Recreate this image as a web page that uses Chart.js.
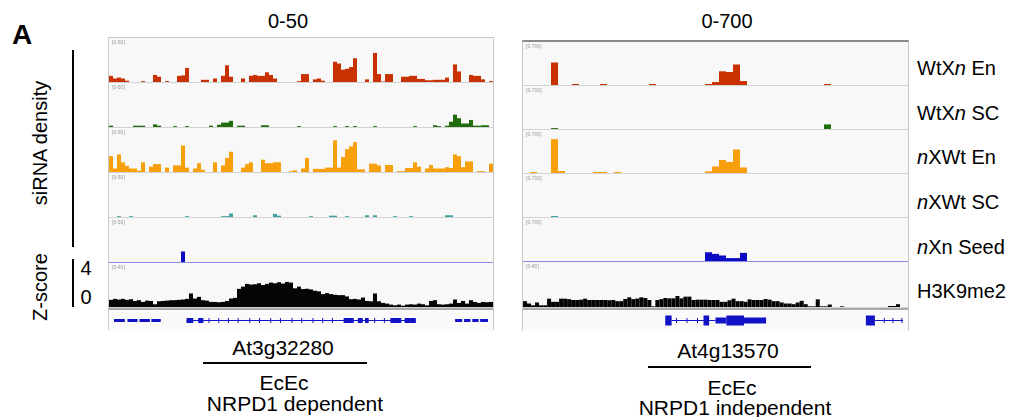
<!DOCTYPE html>
<html>
<head>
<meta charset="utf-8">
<script src="https://cdn.jsdelivr.net/npm/chart.js@4.4.1/dist/chart.umd.min.js"></script>
<style>
body { margin: 0; background: #fff; font-family: "Liberation Sans", Arial, sans-serif; }
#fig { position: relative; width: 1011px; height: 417px; overflow: hidden; background: #fff; }
.txt { position: absolute; white-space: nowrap; transform: translate(-50%, -50%); line-height: 1; color: #000; }
.rot { transform: translate(-50%, -50%) rotate(-90deg); }
.lab { position: absolute; left: 917px; white-space: nowrap; transform: translateY(-50%); font-size: 20px; line-height: 1; }
.bar { position: absolute; background: #000; }
.frame { position: absolute; background: #f8f8f8; }
.track { position: absolute; background: #f8f8f8; border-bottom: 1px solid #d2d2d2; }
.track canvas, .gene canvas { display: block; }
.tag { position: absolute; left: 3px; top: 2px; font-size: 5px; color: #999; line-height: 1; }
.gene { position: absolute; background: #fafafa; border-top: 2px solid #a9a9a9; }
</style>
</head>
<body>
<div id="fig">
  <div class="txt" style="left:22px;top:35px;font-size:28px;font-weight:bold">A</div>
  <div class="txt" style="left:288px;top:21px;font-size:20px">0-50</div>
  <div class="txt" style="left:727px;top:21px;font-size:20px">0-700</div>

  <div class="txt rot" style="left:40px;top:143px;font-size:20px">siRNA density</div>
  <div class="bar" style="left:72px;top:50px;width:2px;height:197px"></div>
  <div class="txt rot" style="left:40px;top:287px;font-size:20px">Z-score</div>
  <div class="bar" style="left:72px;top:259px;width:2px;height:48px"></div>
  <div class="txt" style="left:86px;top:268px;font-size:20px">4</div>
  <div class="txt" style="left:86px;top:297px;font-size:20px">0</div>

  <div class="lab" style="top:68px">WtX<i>n</i> En</div>
  <div class="lab" style="top:113px">WtX<i>n</i> SC</div>
  <div class="lab" style="top:157px"><i>n</i>XWt En</div>
  <div class="lab" style="top:202px"><i>n</i>XWt SC</div>
  <div class="lab" style="top:247px"><i>n</i>Xn Seed</div>
  <div class="lab" style="top:291px">H3K9me2</div>

  <div class="txt" style="left:283px;top:347px;font-size:21px">At3g32280</div>
  <div class="bar" style="left:203px;top:362px;width:164px;height:2px"></div>
  <div class="txt" style="left:284px;top:382px;font-size:21px">EcEc</div>
  <div class="txt" style="left:295px;top:403px;font-size:21px">NRPD1 dependent</div>

  <div class="txt" style="left:728px;top:350px;font-size:21px">At4g13570</div>
  <div class="bar" style="left:648px;top:366px;width:163px;height:2px"></div>
  <div class="txt" style="left:732px;top:387px;font-size:21px">EcEc</div>
  <div class="txt" style="left:735px;top:407px;font-size:21px">NRPD1 independent</div>
</div>

<script>
// ---- left window (At3g32280), 96 bins, siRNA scale 0-50, H3K9me2 scale 0-40
const leftRed = [7,4,5,4,1.5,0,0,0,1,0, 0,8,6,0,1,0,0,7,7.5,16, 0,0,0,2.5,2.5,0,4,0,7,19,
  6,0,0,4,0,7,8,7,7,11, 8,4,0,0,0,0,0,1,9,9, 0,3,4,1.5,0,0,23,21,14,15,
  17,27,0,0,3,0,33,9,0.5,9, 9,0,0,6,6,7,7,3.5,3.5,2, 2,2.5,2.5,2.5,5,0,20,12,0,0, 8,7,7,3,0,1];
const leftGreen = [1.5,0,0,0,0,0,1.5,1.5,1.5,0, 0,3,1.5,0,0,0,1,0,0,1, 0,0,0,0,0,1.5,0,2.5,5,5,
  7,0,1.5,1.5,0,0,0,0,2,2, 0,0,0,0,0,0,0,1,0,0, 0,0,0,0,0,0,1,0,0,1,
  0,1,0,0,0,0,1,0,0,0, 0,0,0,0,0,0,1,0,0,0, 0,2,1,0,1.5,6,14,10,4,4, 8,1.5,1.5,2,2,0];
const leftOrange = [18,4,20,11,7,4,4,1.5,11,0, 6,9,9,0,5,0,7.5,7.5,30,5, 0,4,10,2.5,0,0,11,0,7.5,16,
  23,0,0,5,9,11,0,0,14,10, 10,11,11,0,0,1,2,0,4,16, 0,3.5,3.5,3.5,5,5,36,5,17,26,
  29,34,3,3,0,9.5,9.5,7.5,0,8, 8,0,1,1,4.5,4.5,11,6,0,4, 8,4,4,4,5.5,4.5,20,18,5.5,12, 12,0,1,1,0,9.5];
const leftTeal = [0,0,1,0,0,1,0,0,0,0, 0,0,0,0,0,0,0,0,0,1, 0,0,0,0,0,0,0,0,1,1,
  4,0,0,0,0,0,2,0,0,0, 0,3.5,1.5,0,0,0,0,0,0,0, 1,0,0,0,0,1.5,1.5,0,0,1,
  0,0,0,0,2,0,2,0,0,0, 0,1,0,0,0,1,0,0,0,0, 0,0,0,0,2,2,0,0,0,0, 0,0,0,0,0,0];
const leftSeed = [0,0,0,0,0,0,0,0,0,0, 0,0,0,0,0,0,0,0,12,0, 0,0,0,0,0,0,0,0,0,0,
  0,0,0,0,0,0,0,0,0,0, 0,0,0,0,0,0,0,0,0,0, 0,0,0,0,0,0,0,0,0,0,
  0,0,0,0,0,0,0,0,0,0, 0,0,0,0,0,0,0,0,0,0, 0,0,0,0,0,0,0,0,0,0, 0,0,0,0,0,0];
const leftH3 = [6.5,7.4,6.8,7.4,6.5,7.1,5.5,6.2,4.6,5.8, 5.5,2.5,5.2,5.5,5.8,6.2,6.2,6.5,6.8,7.4,
  12.3,7.7,9.2,6.2,5.8,4.6,4.6,4.3,4.6,5.5, 7.7,8.3,16.5,18.5,21,20.4,20.7,21.6,20,21,
  22.2,21.6,22.5,21.3,22.8,22.2,17,18.5,16.3,16.6, 16,14.8,14.2,11.7,12.6,11.7,11.1,10.8,10.8,9.6,
  7.1,7.4,6.8,8.6,5.5,5.2,12.3,5.2,3.7,3.1, 2.2,1.5,2.2,1.2,2.2,2.5,2.2,3.1,2.5,1.5,
  5.5,6.2,2.5,2.2,2.5,3.1,6.8,3.7,5.5,3.1, 6.2,4.6,3.7,4.6,4.3,4.6];

// ---- right window (At4g13570), siRNA 55 bins scale 0-700, H3K9me2 96 bins scale 0-40
const rightRed = [0,0,0,0,366,0,0,16,0,0, 0,16,0,0,0,0,0,0,16,0, 0,0,0,0,0,0,16,48,223,212,
  334,64,0,0,0,0,0,0,0,0, 0,0,0,16,0,0,0,0,0,0, 0,0,0,0,0];
const rightGreen = [0,0,0,0,15,0,0,0,0,0, 0,0,0,0,0,0,0,0,0,0, 0,0,0,0,0,0,0,0,0,0,
  0,0,0,0,0,0,0,0,0,0, 0,0,0,75,0,0,0,0,0,0, 0,0,0,0,0];
const rightOrange = [0,16,0,0,551,32,0,0,0,0, 16,16,0,16,0,0,0,0,0,0, 0,0,0,0,0,0,27,106,212,180,
  382,90,0,0,0,0,0,0,0,0, 0,0,0,0,0,0,0,0,0,0, 0,0,0,0,0];
const rightTeal = [0,0,0,0,16,0,0,0,0,0, 0,0,0,0,0,0,0,0,0,0, 0,0,0,0,0,0,0,0,0,0,
  0,0,0,0,0,0,0,0,0,0, 0,0,0,0,0,0,0,0,0,0, 0,0,0,0,0];
const rightSeed = [0,0,0,0,0,0,0,0,0,0, 0,0,0,0,0,0,0,0,0,0, 0,0,0,0,0,0,142,116,90,47,
  47,132,0,0,0,0,0,0,0,0, 0,0,0,0,0,0,0,0,0,0, 0,0,0,0,0];
const rightH3 = [5.2,3.1,1.5,4,1.5,1.5,7.4,4.6,4.6,7.4, 7.4,7,6.2,6.2,6.5,7.4,6.2,6.2,6.2,6.2,
  6.2,6,6.2,5.2,5.2,7.1,8.6,7,7.5,8.6, 8,6.2,0.6,6.2,7,8,7.7,7.7,9.8,7.7,
  9.2,9.2,6.2,6.5,6.5,6.5,6.2,6.2,6.2,4.6, 4.6,6,7.4,5.2,5.2,4.6,6.8,6.2,6.2,6.2,
  7.1,6.5,5.2,5.2,4,3.1,3.1,2.5,4,5.5, 2.5,0.6,0.6,6.8,0.6,0.6,2.2,0,0,0.6,
  0,0,0,0,0,0,0,0,0,0, 0,0.9,0.9,2.5,0,0];

// ---- gene models, position in % of window
const leftNeighbours = [[0,2.9],[3.6,6.3],[6.8,9.6],[10,12.5],[91.2,93.1],[93.6,95.3],[95.8,97.5],[97.9,100]];
const leftExons = [[19.4,21.2],[22.5,23.9],[61.4,64.1],[65.2,66.5],[67.1,68.1],[73.9,76.8],[77.7,80.7]];
const leftIntrons = [[19.4,80.7]];
const leftArrows = [25.4,28,30.6,33.2,36.3,38.9,41.9,44.5,47.6,50.2,53.2,55.8,58.4,69.7,72.3];
const rightCds = [[36.6,38.3],[46.8,48.3],[52.9,57.6],[90.1,92.5]];
const rightUtr = [[50,52.9],[57.6,63.5]];
const rightIntrons = [[38.3,50],[92.5,100]];
const rightArrows = [39.6,42.4,45.2,95,97.3,99.7];

const colors = { en: '#c83200', sc: '#1f6d0c', xen: '#f7a00c', xsc: '#3aa3a8', seed: '#0b0bc4', h3: '#050505', gene: '#1212c6' };

const fig = document.getElementById('fig');

function baseOptions(scales) {
  return {
    responsive: false, animation: false, devicePixelRatio: 1, events: [],
    layout: { padding: 0 },
    plugins: { legend: { display: false }, tooltip: { enabled: false } },
    scales
  };
}

function addBox(cls, css) {
  const d = document.createElement('div');
  d.className = cls;
  d.style.cssText = css;
  fig.appendChild(d);
  return d;
}

function addTrack(x, top, w, h, values, color, max, tag, edge) {
  const box = addBox('track', `left:${x}px;top:${top}px;width:${w}px;height:${h}px;` + (edge ? `border-bottom-color:${edge}` : ''));
  const cv = document.createElement('canvas');
  cv.width = w; cv.height = h;
  box.appendChild(cv);
  const t = document.createElement('div');
  t.className = 'tag'; t.textContent = tag;
  box.appendChild(t);
  new Chart(cv, {
    type: 'bar',
    data: {
      labels: values.map((v, i) => i),
      datasets: [{ data: values, backgroundColor: color, borderWidth: 0, inflateAmount: 0, barPercentage: 1, categoryPercentage: 1 }]
    },
    options: baseOptions({
      x: { display: false },
      y: { display: false, min: 0, max: max }
    })
  });
}

function segments(pairs) {
  const pts = [];
  pairs.forEach(p => pts.push({ x: p[0], y: 0 }, { x: p[1], y: 0 }, { x: p[1], y: null }));
  return pts;
}

function addGene(x, top, w, h, parts, arrows) {
  const box = addBox('gene', `left:${x}px;top:${top}px;width:${w}px;height:${h}px`);
  const cv = document.createElement('canvas');
  cv.width = w; cv.height = h;
  box.appendChild(cv);
  const sets = parts.map(p => ({
    data: segments(p.pairs), showLine: true, borderColor: colors.gene, borderWidth: p.width, pointRadius: 0, spanGaps: false
  }));
  sets.push({
    data: arrows.map(a => ({ x: a, y: 0 })), showLine: false, pointStyle: 'line', pointRotation: 90,
    pointRadius: 2.5, pointBorderWidth: 1, pointBorderColor: colors.gene
  });
  new Chart(cv, {
    type: 'scatter',
    data: { datasets: sets },
    options: baseOptions({
      x: { type: 'linear', display: false, min: 0, max: 100 },
      y: { display: false, min: -1, max: 1 }
    })
  });
}

// left panel
addBox('frame', 'left:108px;top:37px;width:384px;height:292px;border:1px solid #c8c8c8;border-bottom:none');
const leftEdges = [38, 83, 128, 173, 218, 263, 308];
const leftTracks = [
  [leftRed, colors.en, 50, '[0-50]'], [leftGreen, colors.sc, 50, '[0-50]'],
  [leftOrange, colors.xen, 50, '[0-50]'], [leftTeal, colors.xsc, 50, '[0-50]'],
  [leftSeed, colors.seed, 50, '[0-50]', '#8a8ae6'], [leftH3, colors.h3, 40, '[0-40]']
];
leftTracks.forEach((t, i) => addTrack(109, leftEdges[i], 384, leftEdges[i + 1] - leftEdges[i] - 1, t[0], t[1], t[2], t[3], t[4]));
addGene(109, 308, 384, 21, [
  { pairs: leftExons, width: 5 }, { pairs: leftNeighbours, width: 3 }, { pairs: leftIntrons, width: 1 }
], leftArrows);

// right panel
addBox('frame', 'left:522px;top:40px;width:385px;height:289px;border:1px solid #c8c8c8;border-top:2px solid #8a8a8a;border-bottom:none');
const rightEdges = [42, 86, 130, 174, 218, 262, 308];
const rightTracks = [
  [rightRed, colors.en, 700, '[0-700]'], [rightGreen, colors.sc, 700, '[0-700]'],
  [rightOrange, colors.xen, 700, '[0-700]'], [rightTeal, colors.xsc, 700, '[0-700]'],
  [rightSeed, colors.seed, 700, '[0-700]', '#8a8ae6'], [rightH3, colors.h3, 40, '[0-40]']
];
rightTracks.forEach((t, i) => addTrack(523, rightEdges[i], 385, rightEdges[i + 1] - rightEdges[i] - 1, t[0], t[1], t[2], t[3], t[4]));
addGene(523, 308, 385, 21, [
  { pairs: rightCds, width: 10 }, { pairs: rightUtr, width: 6 }, { pairs: rightIntrons, width: 1 }
], rightArrows);
</script>
</body>
</html>
